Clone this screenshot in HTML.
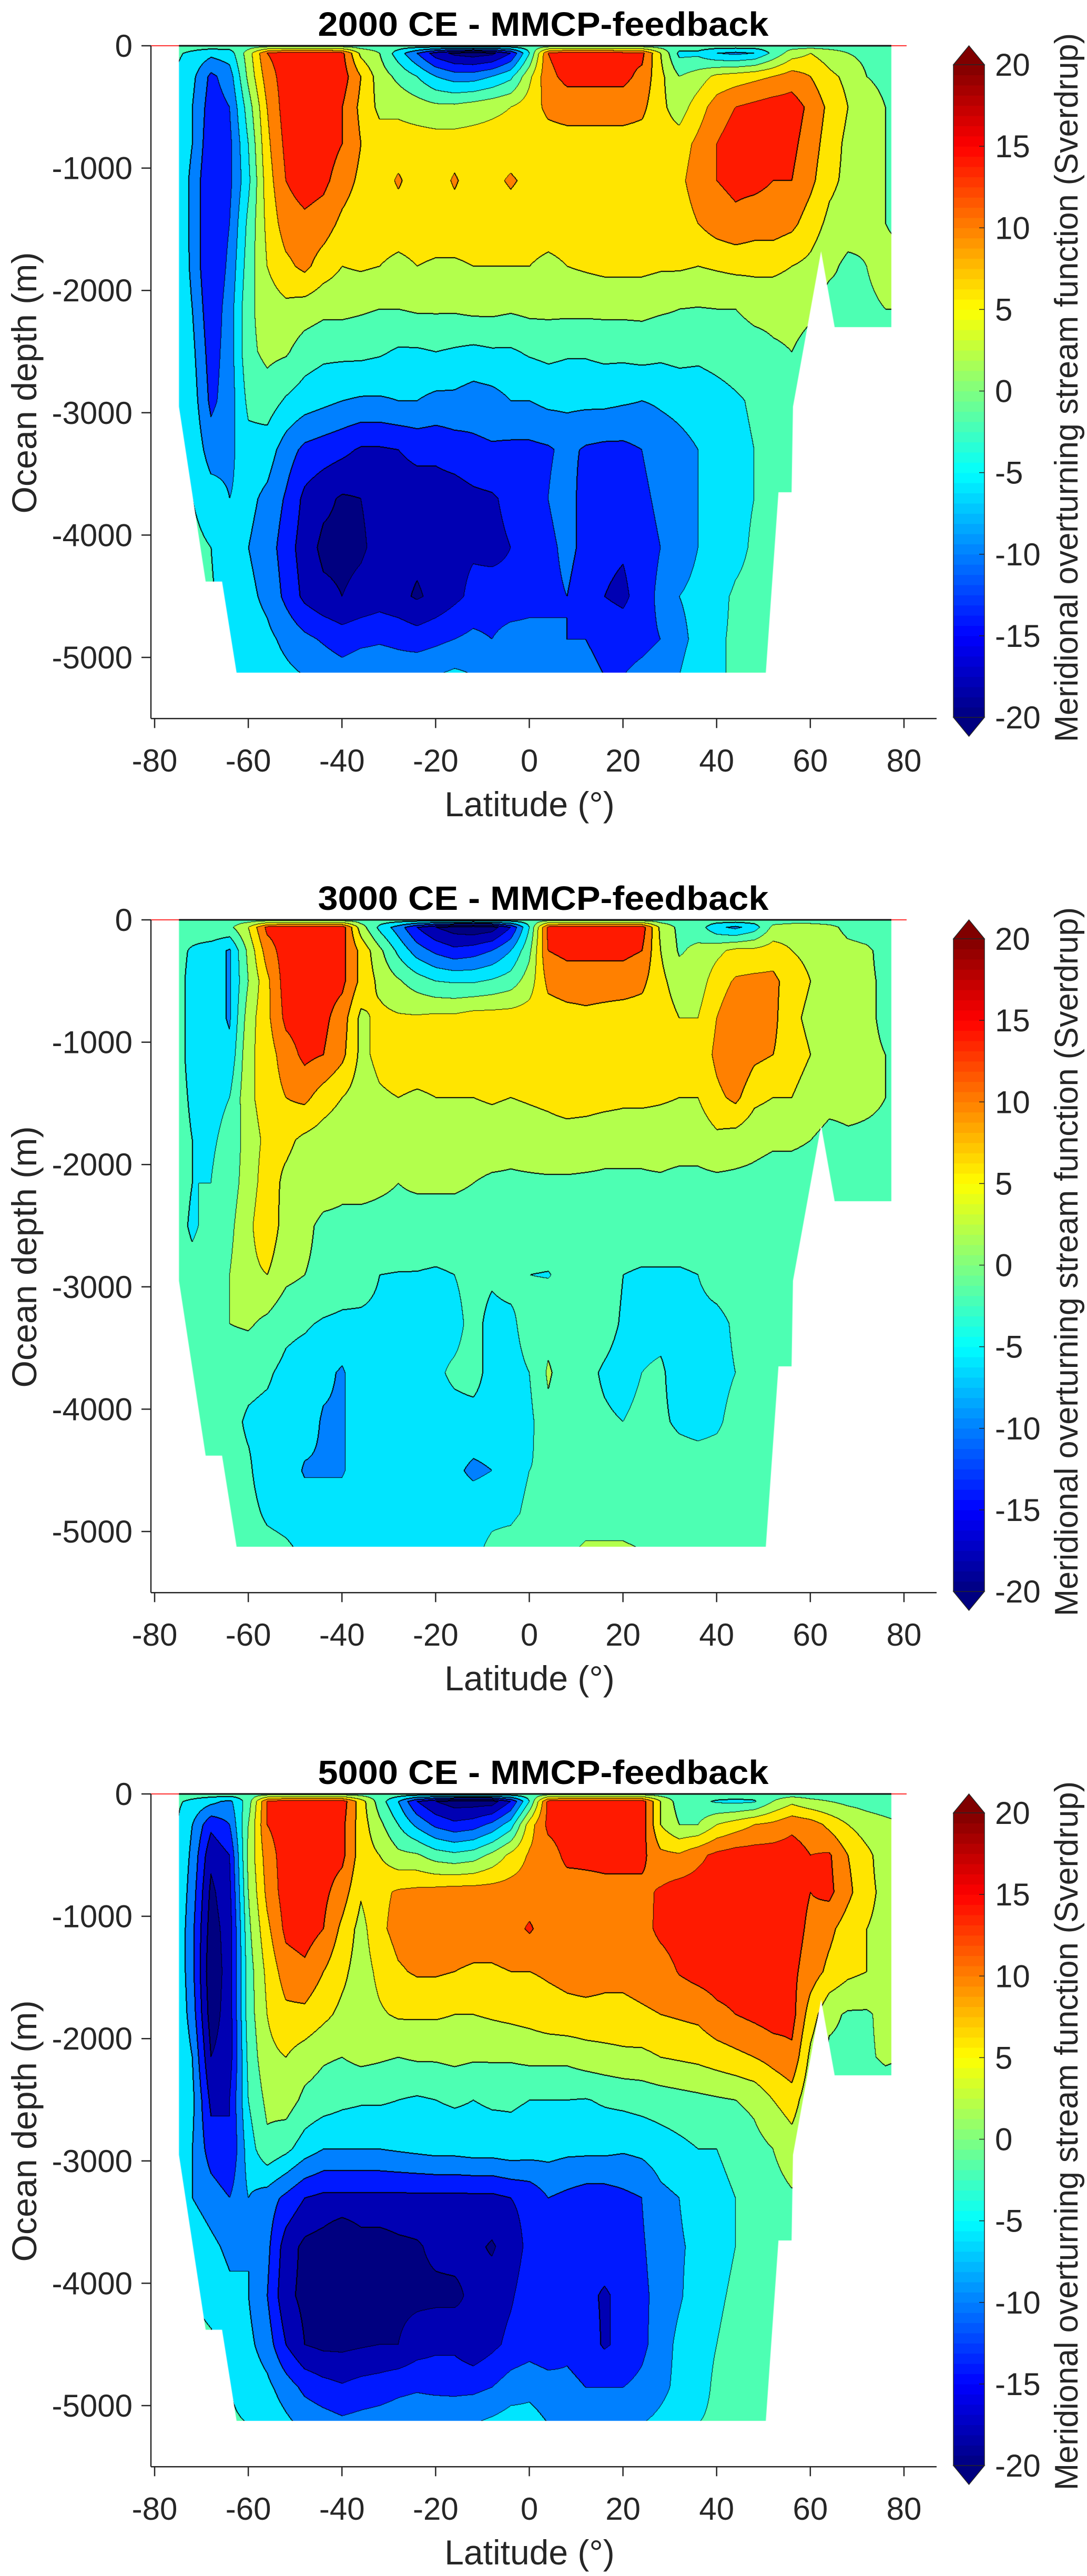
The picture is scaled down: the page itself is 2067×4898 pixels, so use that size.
<!DOCTYPE html>
<html><head><meta charset="utf-8">
<style>
html,body{margin:0;padding:0;background:#fff;}
body{width:2067px;height:4898px;position:relative;overflow:hidden;font-family:"Liberation Sans",Arial,sans-serif;}
canvas{position:absolute;}
svg{position:absolute;left:0;top:0;}
</style></head>
<body>
<canvas id="c0"></canvas>
<canvas id="c1"></canvas>
<canvas id="c2"></canvas>
<svg id="ov" width="2067" height="4898"></svg>
<script>
// ---------- data ----------
const lats=[-76,-72,-68,-64,-60,-56,-52,-48,-44,-40,-36,-32,-28,-24,-20,-16,-12,-8,-4,0,4,8,12,16,20,24,28,32,36,40,44,48,52,56,60,64,68,72,76,80];
const depths=[0,60,250,500,800,1100,1450,1800,2150,2500,2900,3300,3700,4100,4500,4850,5150];
const levels=[-18,-14,-10,-6,-2,2,6,10,14,18];
const panelTitles=["2000 CE - MMCP-feedback","3000 CE - MMCP-feedback","5000 CE - MMCP-feedback"];
const yTickValues=[0,-1000,-2000,-3000,-4000,-5000];
const xTickValues=[-80,-60,-40,-20,0,20,40,60,80];
const cbTickValues=[20,15,10,5,0,-5,-10,-15,-20];
const domainLat=[-74.8,-74.8,-69.1,-65.6,-62.5,50.5,53.2,56,56.3,62.3,65.2,77.3,77.3];
const domainDepth=[0,2950,4380,4380,5125,5125,3650,3650,2950,1680,2300,2300,0];
const Z=[0,0,0,0,0,0,0,0,0,0,0,0,0,0,0,0,0,0,0,0,0,0,0,0,0,0,0,0,0,0,0,0,0,0,0,0,0,0,0,0];
const field2000=[
Z,
[-1,-3,-5,-4,4,14,16,16,16,15,5,2,-4,-10,-16,-19,-20,-19,-14,-2,14,16,16,16,15,15,6,-3,-3,-6,-7,-6,-1,4,6,4,2,1,0,0],
[-2,-5,-11,-8,3,12,16,16,16,16,10,4,1,-2,-6,-8,-8,-6,-3,5,13,15,15,15,15,13,7,2,4,7,8,9,10,12,10,7,5,2,1,1],
[-2,-6,-12,-10,0,10,16,17,16,14,9,5,5,4,3,3,4,5,6,8,11,12,12,12,12,11,7,4,8,12,14,15,16,16,13,9,6,4,2,1],
[-2,-6,-13,-11,-2,9,15,17,16,14,10,8,8,8,8,8,8,8,8,8,8,8,8,8,8,8,8,8,11,14,16,16,16,15,12,8,5,3,2,1],
[-2,-7,-14,-11,-3,8,14,16,15,12,9,8,10.5,8,8,10.5,8,9,10.5,9,8,8,8,8,8,8,8,9,12,14,15,15,14,14,11,7,5,3,2,1],
[-2,-7,-14,-10,-1,7,12,13,12,9,7.5,8,8,8,8,8,8,8,8,8,8,8,8,8,8,8,8,8,10,12,13,12,12,11,8,5,4,3,2,1],
[-1,-7,-14,-9,0,6,9,11,8,6,6.5,6,5,6,5.5,5.5,6,6,6,6,5,6,6.5,7,7,7,6.5,6.5,6,6.5,7,7,7,6,5,3,1,2,3,3],
[-1,-6,-13,-8,1,4,5,4,3,3,2.5,2,2,2.5,2.5,2.5,3,3,2.5,3,3,3,3,3,3,3,2.5,2,1.8,2,2,3,3,3,2.5,0,1,1.5,2,2],
[-2,-5,-12,-8,1,3,2.5,0,-1,-1,-1,-1.5,-2.5,-2.5,-2,-2.5,-3,-2.5,-2.5,-1.5,-1,-1.5,-1.5,-1,-1,-0.5,-1,-0.5,-1,-0.5,0,0.5,1.5,2,1,0,0,0,0,0],
[-2,-4,-11,-8,-1,0,-2.5,-4,-5,-6,-6.5,-6.5,-6,-6,-7,-7,-8,-7.5,-6,-6,-5,-5,-5,-5,-5.5,-6,-5.5,-5,-4.5,-3.5,-2.5,-1.5,-1,-1,-1,-1,-1,-1,-1,-1],
[-1,-3,-8,-7,-3.5,-4,-8,-11,-12,-13,-14.5,-14.5,-14,-13,-13,-12,-11,-10.5,-11,-11,-10.5,-9,-10.5,-11,-11,-10,-8,-7,-6,-4,-3,-2,-1.5,-1.5,-1,-1,-1,-1,-1,-1],
[-1,-2,-4,-6,-5,-7,-10.5,-15,-17,-18.5,-18,-17,-16,-16,-16,-16,-15,-14.5,-13,-12,-10,-8,-12,-12,-12,-11,-9,-7,-6,-5,-3,-2,-1.5,-1,-1,-1,-1,-1,-1,-1],
[-1,-1,-2,-5,-6,-8,-12,-16,-19,-19,-18.5,-17,-16.5,-17,-16.5,-15,-14.5,-15,-14,-12,-11,-9,-11,-13,-13.5,-12,-10,-8,-6,-5,-3,-1.5,-1,-1,-1,-1,-1,-1,-1,-1],
[-1,-1,-1.5,-4,-5,-7,-11,-15,-17,-18,-17,-16,-17,-18.5,-17,-15,-13,-12.5,-13,-12,-11,-10,-12,-14,-15,-12,-9,-6,-5,-3,-1.5,-1,-1,-1,-1,-1,-1,-1,-1,-1],
[-1,-1,-1,-2.5,-4,-5,-7,-9,-10.5,-12,-11,-10.5,-11,-12,-11,-10,-9,-10,-8,-8,-9,-10,-10,-11,-11.5,-11,-10,-7,-5,-2.5,-1.5,-1,-1,-1,-1,-1,-1,-1,-1,-1],
[-1,-1,-1,-1.5,-3,-4,-5,-6,-7,-8,-7,-7,-7.5,-6.5,-6,-5,-6,-7,-6,-6,-7,-9,-9,-10,-10,-9,-8,-6,-4,-2.5,-1.5,-1,-1,-1,-1,-1,-1,-1,-1,-1]
];
const field3000=[
Z,
[-0.5,0,1,1,6,15,16,16,16,16,4,-3,-8,-14,-18,-20,-21,-20,-14,-2,15,16,16,16,16,16,5,1,0,-5,-7,-4,3,4,4,3,1,0.5,0,0],
[-0.5,-2.5,-4,-6.5,3,12,16,16,16,15,9,3,-3,-8,-11,-13,-12,-10,-6,1,14,15,15,15,15,14,6,1.5,3,5,7,7,8,6,5,4,3,2.5,1,1],
[-0.5,-3,-4,-6.5,2,9,16,16,16,15,9,5,2.5,0,-2,-2.5,-2.5,-1.5,0,4,11,12,12,12,12,11,7,4,4,8,10.5,11,11,8,6,5,3,2.5,1.5,1],
[-0.5,-3,-4,-6.5,4,9,15,16,15,12,5,7,6.5,6.5,7,7,8,8,8,8,8,8.5,9,8.5,8,8,8,6,6,10,13,12,11,7,5,4,3,2.5,1.5,1],
[-0.5,-3,-3.5,-5,5,8,12,15,14,11,5,7,8,8,8,8,8,8,8,8,8,8,8,7,8,8,8,8,7,11,14,11,10,8,6,4,3,2.5,2,1],
[-0.5,-2.5,-3,-2,5,8,10,11,8,6,4,5.5,6,5.5,6,6,6,6.5,6,6.5,7,8,8,7.5,7,7,6.5,6,6,9,11,7,6,6,4,3,3,2.5,2,1.5],
[-0.5,-2,-2.5,-1,4,7,7,5,4,3,2,4,4,4,4,4,3.5,3.5,3,3.5,4,4,3.5,3,3,3,3.5,3.5,3.5,5,4,3,2.5,2.5,2,1,1.5,1.5,1.5,1],
[-0.5,-2,-2,0,4,8,5,3.5,3,2.5,3,2.5,2,2.5,2.5,2.5,2,1.5,1.5,1.5,1.5,1.5,1.5,1.5,1.5,1.5,1.5,1,1,1,1,1,0.5,0.5,0.5,0.5,0.5,0.5,0.5,0.5],
[-0.5,-2.5,-1,1,5,9,4,2.5,1.5,1.5,1,1,1,0.5,0.5,0.5,0.5,0.5,0.5,0.5,0.5,0.5,0.5,0.5,0.5,0.5,0.5,0.5,0.5,0.5,0.5,0.5,0.5,0.5,0.5,0.5,0.5,0.5,0.5,0.5],
[-0.5,-1,-0.5,2,5,6,3,2,1.5,0.5,0,-2,-2.2,-2.2,-2.5,-2,-1,-1.5,-0.5,-2,-2.2,-1,0,0,-2,-2.5,-2.5,-2.5,-2,-0.5,0,0,0,0,0,0,0,0,0,0],
[-0.5,-0.5,0,2,2.5,1,-1,-1.5,-2.5,-3,-3,-3,-3,-3,-3,-3,-1,-3,-3,0,0.5,0,0,-0.5,-2.5,-3,-3,-3,-3,-3,-1.5,0,0,0,0,0,0,0,0,0],
[-0.5,-0.5,-0.5,-0.5,-1,-1.5,-3,-4,-5,-6.5,-3.5,-3,-3,-3,-2.5,-1.5,-1,-3,-3.5,-2,2.5,0,-1,-2.5,-3.5,-2,-1.5,-3.5,-3.5,-3,-2,-0.5,0,0,0,0,0,0,0,0],
[-0.5,-0.5,-0.5,-1,-2.5,-3,-3.5,-4,-6.5,-6.5,-3.5,-3,-3,-3,-3,-3,-3,-3,-3,-3,1,-1,-1,-1.5,-2,-1,-1.5,-2.5,-3,-2.5,-1,0,0,0,0,0,0,0,0,0],
[-0.5,-0.5,-0.5,-1,-1.5,-4,-3.5,-6.5,-6.5,-6.5,-3.5,-3,-3,-3,-3.5,-5,-7,-6,-3,-2,-1.5,-1,-0.5,-0.5,-0.5,-0.5,-0.5,-0.5,-0.5,-0.5,-0.5,-0.5,-0.5,-0.5,-0.5,-0.5,-0.5,-0.5,-0.5,-0.5],
[-0.5,-0.5,-0.5,-0.5,-1,-2.5,-3,-3.5,-3.5,-3.5,-3,-3,-3,-3,-3,-3,-3,-2.5,-2.5,-1.5,-0.5,0,0.5,0.5,0.5,0,0,0,0,0,0,0,0,0,0,0,0,0,0,0],
[-0.5,-0.5,-0.5,-0.5,-0.5,-1,-1.5,-2.5,-2,-2.5,-2.5,-2.5,-2.5,-2.5,-2.5,-2.5,-2.5,-1.5,-1,0,0.5,1.5,2.5,2.5,2.5,2,1,0.5,0.5,0.5,0.5,0.5,0.5,0.5,0.5,0.5,0.5,0.5,0.5,0.5]
];
const field5000=[
Z,
[-1,-3,-5,-7,0,14,16,16,16,16,8,0,-6,-14,-18,-20,-20,-20,-14,-2,15,16,16,16,16,16,6,0,-1,-2.5,-3,-2.5,2,5,3,2,1,0.5,0,0],
[-1,-6,-13,-10,2,14,16,16,16,15,8,3,-2,-7,-11,-13,-12,-9,-4,8,15,16,16,16,16,16,6,2,2,6,8,10,11,13,12,9,6,4,3,2],
[-1,-7,-17,-14,3,12,16,16,16,15,8,6,3,2.5,0,-1,0,3,7,10.5,12,15,15,15,15,15,11,10.5,13,15,16,16,16,16,14,14.5,10,7,4,3],
[-1,-8,-19,-15,2,11,16,16,15,12,6.5,9,10.5,11,11.5,12,12,12,12,12,12,12,12.5,13,13,13,14.5,16,16,16,16,16,16,16,14,15,11,7,5,4],
[-1,-9,-20,-16,1,9,15,16,14,9,4.5,9,11.5,12,12,12,12,12,12.5,14.5,12,12,12,12,12,12.5,15,16,16,16,16,16,16,16,13,11,8,6,5,4],
[-1,-9,-21,-16,0,7,12,13,10,7,4,7,9.5,10.5,10.5,10,9.5,9.5,10,10,10.5,11,11.5,11,11,11.5,12,14.3,15.5,16,16,16,16,15,12,9,7,6,5,4],
[-1,-8,-20,-16,0,6,9,9,7,5,4,5.5,6.5,6.5,6.5,6,6,6.5,7,7.5,8.5,9,9,9,9,9.5,10,10.5,11,13,14,15,16,15.5,8,3,1.5,1.5,3,3],
[-1,-6,-18,-16,-1,5,6,4,2.5,2,3,2.5,2,2.5,2.5,3,2.5,2.5,2.5,3,3,3,4,4.5,5,5,6,6.5,7,8,9,10,11.5,13,5,1,1,1.5,2.5,2],
[-1.5,-5,-15,-14,-2,3,4,1,0,-1,-1.5,-1.5,-2,-2.5,-2,-1.5,-2,-1.5,-1.5,-2,-2,-2,-2.2,-1.5,-1,-0.5,0,0.5,1,1.5,2,3,6,8,3,0,0,0,0,0],
[-2,-6,-12,-14,-4,1,-1,-4,-6,-6,-6,-6,-5.5,-5,-4.5,-4.5,-4,-4,-3.5,-4,-4.5,-5,-5,-5,-5.5,-5,-4,-3,-2,-2,-1,0.5,2,4,2,0,0,0,0,0],
[-2,-6,-8,-10,-6,-8,-11,-14,-15,-15,-15,-15,-15,-15,-15,-15,-15,-15,-14,-13,-10,-11,-12,-12,-11,-10,-7,-6,-4,-3,-2,-1,0.5,1.5,1,0,0,0,0,0],
[-1,-3,-5,-7,-6,-9,-16,-19,-20,-22.5,-20,-20,-19,-18.5,-17,-16.5,-17,-18.5,-16,-13,-10,-12,-12,-12,-12,-10.5,-8,-6.5,-5,-3,-2,-1,-1,-1,-1,0,0,0,0,0],
[-1,-2,-3,-5,-6,-10,-17,-19,-21,-23,-21,-20,-19,-19,-19,-19,-17,-16,-14.5,-12,-11,-12,-13,-14.5,-13,-11,-8.5,-6.5,-4,-2.5,-1.5,-1,-1,-1,-1,0,0,0,0,0],
[-1,-1,-1.5,-3,-5,-8,-14,-18,-19,-19,-18.5,-18,-18,-16,-15,-15,-17,-15,-13,-12,-13,-11,-12,-14.5,-13,-11,-8,-5,-3,-2,-1,-1,-1,-1,-1,0,0,0,0,0],
[-1,-1,-1,-2,-3.5,-5,-8,-11,-12.5,-13.5,-12.5,-12,-11,-10.5,-11,-11,-11,-10,-8,-7,-8,-9,-10,-10,-10,-9,-7,-5,-3,-1.5,-1,-1,-1,-1,-1,0,0,0,0,0],
[-1,-1,-1,-1.5,-2,-3,-5,-7,-8,-9,-8.5,-8,-7.5,-7,-6.5,-7,-6,-5,-4,-4.5,-6,-7,-7.5,-7,-7,-6,-5,-4,-2,-1.5,-1,-1,-1,-1,-1,0,0,0,0,0]
];
const fields=[field2000,field3000,field5000];

// ---------- geometry ----------
const X0=1006.5, XS=8.906, DS=0.2326, AXL=287, AXR=1781, PANEL_DY=1662, TOP0=87;
function xOf(lat){return X0+XS*lat;}
function yOf(depth,y0){return y0+depth*DS;}
function jet(x){x=Math.max(0,Math.min(1,x));const c=v=>Math.max(0,Math.min(1,v));
 return [c(Math.min(4*x-1.5,-4*x+4.5)),c(Math.min(4*x-0.5,-4*x+3.5)),c(Math.min(4*x+0.5,-4*x+2.5))];}
function bandColor(k){const lower=k===0?-22:levels[k-1];return jet((lower+20)/40).map(v=>Math.round(v*255));}
const bandCols=[];for(let k=0;k<=levels.length;k++)bandCols.push(bandColor(k));
function sample(F,lat,d){
 let i=Math.floor((lat-lats[0])/4);i=Math.max(0,Math.min(lats.length-2,i));
 let t=(lat-lats[i])/4;t=Math.max(0,Math.min(1,t));
 let j=0;while(j<depths.length-2&&d>depths[j+1])j++;
 let u=(d-depths[j])/(depths[j+1]-depths[j]);u=Math.max(0,Math.min(1,u));
 const a=F[j][i],b=F[j][i+1],c=F[j+1][i],e=F[j+1][i+1];
 return (a*(1-t)+b*t)*(1-u)+(c*(1-t)+e*t)*u;
}
function band(v){let k=0;while(k<levels.length&&v>=levels[k])k++;return k;}

function drawField(p){
 const F=fields[p];const y0=TOP0+p*PANEL_DY;
 const cv=document.getElementById('c'+p);
 const W=AXR-AXL,H=Math.ceil(5150*DS)+2;
 cv.width=W;cv.height=H;cv.style.left=AXL+'px';cv.style.top=y0+'px';
 const ctx=cv.getContext('2d');
 const img=ctx.createImageData(W,H);const idx=new Uint8Array(W*H);
 for(let py=0;py<H;py++){const d=py/DS;
  for(let px=0;px<W;px++){const lat=(AXL+px-X0)/XS;idx[py*W+px]=band(sample(F,lat,d));}}
 for(let py=0;py<H;py++)for(let px=0;px<W;px++){
  const o=py*W+px;const k=idx[o];
  let edge=(px<W-1&&idx[o+1]!==k)||(py<H-1&&idx[o+W]!==k)||(px>0&&idx[o-1]>k)||(py>0&&idx[o-W]>k);
  const c=edge?[0,0,0]:bandCols[k];
  img.data[o*4]=c[0];img.data[o*4+1]=c[1];img.data[o*4+2]=c[2];img.data[o*4+3]=255;}
 ctx.putImageData(img,0,0);
 ctx.globalCompositeOperation='destination-in';ctx.beginPath();
 for(let n=0;n<domainLat.length;n++){const x=xOf(domainLat[n])-AXL,y=domainDepth[n]*DS;if(n===0)ctx.moveTo(x,y);else ctx.lineTo(x,y);}
 ctx.closePath();ctx.fillStyle='#000';ctx.fill();
}

// ---------- overlay ----------
const NS='http://www.w3.org/2000/svg';const ov=document.getElementById('ov');
function mk(tag,attrs,parent){const e=document.createElementNS(NS,tag);for(const k in attrs)e.setAttribute(k,attrs[k]);(parent||ov).appendChild(e);return e;}
const AX='#262626';
function drawAxes(p){
 const y0=TOP0+p*PANEL_DY;const yb=y0+5500*DS;
 const g=mk('g',{});
 
 
 const sl=mk('line',{x1:xOf(-80)-10,x2:xOf(80)+5,y1:y0,y2:y0,stroke:'#ff3030','stroke-width':2},g);
 
 
 const sl2=mk('line',{x1:xOf(-74.8),x2:xOf(77.3),y1:y0,y2:y0,stroke:'#111','stroke-width':3},g);
 
 
 const t=mk('text',{x:1033,y:y0-19,'text-anchor':'middle','font-size':64,'font-weight':'bold',textLength:857,lengthAdjust:'spacingAndGlyphs',fill:'#000'},g);
 t.textContent=panelTitles[p];
 
 
 const la=mk('line',{x1:AXL,x2:AXL,y1:y0,y2:yb,stroke:AX,'stroke-width':2.5},g);
 
 
 const ba=mk('line',{x1:AXL,x2:AXR,y1:yb,y2:yb,stroke:AX,'stroke-width':2.5},g);
 
 
 yTickValues.forEach(v=>{const y=yOf(-v,y0);
  const tk=mk('line',{x1:AXL-18,x2:AXL,y1:y,y2:y,stroke:AX,'stroke-width':2.5},g);
  
  
  const tl=mk('text',{x:252,y:y+21,'text-anchor':'end','font-size':60,fill:'#262626'},g);tl.textContent=String(v);
  
  });
 xTickValues.forEach(v=>{const x=xOf(v);
  const tk=mk('line',{x1:x,x2:x,y1:yb,y2:yb+18,stroke:AX,'stroke-width':2.5},g);
  
  
  const tl=mk('text',{x:x,y:y0+1380,'text-anchor':'middle','font-size':60,fill:'#262626'},g);tl.textContent=String(v);
  
  });
 const xl=mk('text',{x:1007,y:y0+1465,'text-anchor':'middle','font-size':66,fill:'#262626'},g);xl.textContent='Latitude (°)';
 
 
 const yl=mk('text',{x:0,y:0,'text-anchor':'middle','font-size':66,fill:'#262626',transform:'translate(69,'+(y0+641)+') rotate(-90)',textLength:497,lengthAdjust:'spacingAndGlyphs'},g);yl.textContent='Ocean depth (m)';
 
 
 // colorbar
 const cx=1813,cw=59,ct=y0+36,cbh=1241;
 const cb=mk('g',{},g);
 
 
 const N=64;
 for(let i=0;i<N;i++){const c=jet((i+0.5)/N).map(v=>Math.round(v*255));
  const r=mk('rect',{x:cx,y:ct+cbh*(N-1-i)/N,width:cw,height:cbh/N+0.6,fill:'rgb('+c.join(',')+')'},cb);
  
  }
 const tu=mk('polygon',{points:`${cx},${ct} ${cx+cw/2},${ct-36} ${cx+cw},${ct}`,fill:'#800000',stroke:'#262626','stroke-width':1.5},cb);
 
 
 const td=mk('polygon',{points:`${cx},${ct+cbh} ${cx+cw/2},${ct+cbh+36} ${cx+cw},${ct+cbh}`,fill:'#000080',stroke:'#262626','stroke-width':1.5},cb);
 
 
 const fr=mk('polyline',{points:`${cx},${ct} ${cx},${ct+cbh}`,stroke:'#262626','stroke-width':1.5,fill:'none'},cb);
 
 
 const fr2=mk('polyline',{points:`${cx+cw},${ct} ${cx+cw},${ct+cbh}`,stroke:'#262626','stroke-width':1.5,fill:'none'},cb);
 
 
 cbTickValues.forEach(v=>{const y=ct+(20-v)/40*cbh;
  const tk=mk('line',{x1:cx+cw-10,x2:cx+cw,y1:y,y2:y,stroke:'#262626','stroke-width':1.5},cb);
  
  
  const tl=mk('text',{x:1892,y:y+21,'font-size':60,fill:'#262626'},cb);tl.textContent=String(v);
  
  });
 const cl=mk('text',{x:0,y:0,'text-anchor':'middle','font-size':62,fill:'#262626',transform:'translate(2049,'+(y0+650)+') rotate(-90)',textLength:1348,lengthAdjust:'spacingAndGlyphs'},cb);
 cl.textContent='Meridional overturning stream function (Sverdrup)';
 
 
}
for(let p=0;p<3;p++){drawField(p);drawAxes(p);}
</script>
</body></html>
